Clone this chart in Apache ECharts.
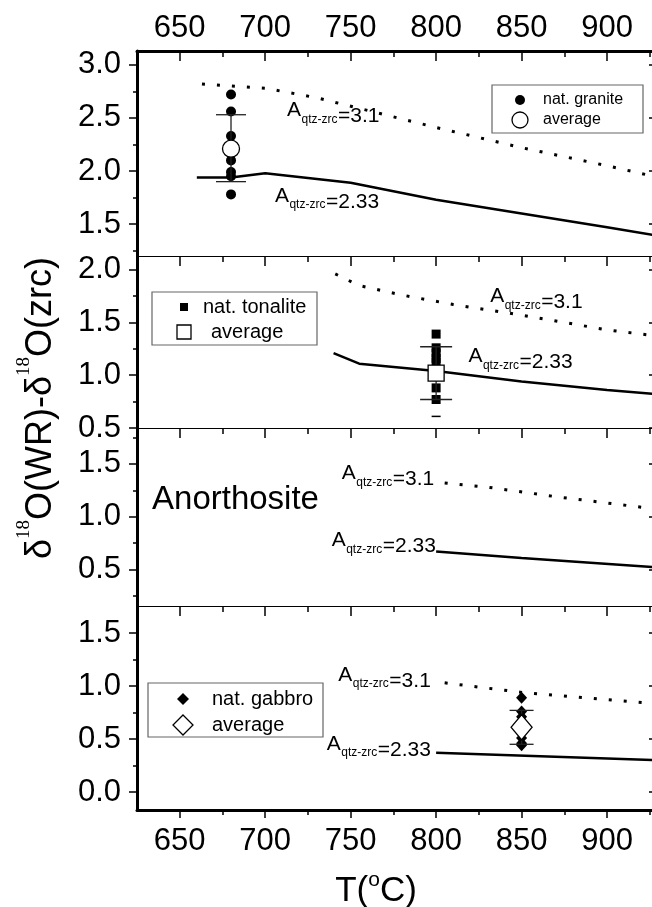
<!DOCTYPE html>
<html><head><meta charset="utf-8">
<script src="https://cdn.jsdelivr.net/npm/echarts@6/dist/echarts.min.js"></script>
<style>html,body{margin:0;padding:0;background:#fff}#c{width:652px;height:907px}</style>
</head><body><div id="c"></div>
<script>
// ---------------- DATA ----------------
const tempTicks = [650, 700, 750, 800, 850, 900];
const tempMinorTicks = [675, 725, 775, 825, 875, 925];

// granite panel
const granDotT = [663, 700, 730, 760, 800, 850, 900, 930];
const granDotV = [2.82, 2.78, 2.69, 2.57, 2.41, 2.22, 2.05, 1.94];
const granSolT = [660, 680, 700, 750, 800, 850, 900, 930];
const granSolV = [1.94, 1.94, 1.98, 1.89, 1.73, 1.60, 1.47, 1.39];
const granT = 680;
const granVals = [2.72, 2.56, 2.33, 2.10, 1.99, 1.95, 1.78];
const granAvg = 2.21;
const granErr = [1.90, 2.53];
const granTicks = [1.5, 2.0, 2.5, 3.0];
const granMinor = [1.25, 1.75, 2.25, 2.75];

// tonalite panel
const tonDotT = [741, 755, 780, 810, 850, 900, 930];
const tonDotV = [1.96, 1.85, 1.76, 1.67, 1.57, 1.43, 1.37];
const tonSolT = [740, 755, 800, 850, 900, 930];
const tonSolV = [1.21, 1.11, 1.04, 0.94, 0.86, 0.82];
const tonT = 800;
const tonVals = [1.39, 1.26, 1.21, 1.16, 1.12, 0.88, 0.77];
const tonAvg = 1.02;
const tonErr = [0.77, 1.27];
const tonLowMark = [0.61];
const tonTicks = [0.5, 1.0, 1.5, 2.0];
const tonMinor = [0.75, 1.25, 1.75];

// anorthosite panel
const anoDotT = [805, 830, 870, 930];
const anoDotV = [1.32, 1.28, 1.19, 1.07];
const anoSolT = [800, 850, 930];
const anoSolV = [0.67, 0.61, 0.52];
const anoTicks = [0.5, 1.0, 1.5];
const anoMinor = [0.25, 0.75, 1.25, 1.75];

// gabbro panel
const gabDotT = [805, 850, 930];
const gabDotV = [1.03, 0.94, 0.83];
const gabSolT = [800, 930];
const gabSolV = [0.37, 0.30];
const gabT = 850;
const gabVals = [0.89, 0.76, 0.71, 0.51, 0.46, 0.44];
const gabAvg = 0.61;
const gabErr = [0.45, 0.77];
const gabTicks = [0.0, 0.5, 1.0, 1.5];
const gabMinor = [0.25, 0.75, 1.25];

// annotation anchors (data coords: T, value)
const lbl31 = [[712.8, 2.57], [831.6, 1.745], [744.8, 1.41], [742.8, 1.104]];
const lbl233 = [[705.7, 1.767], [818.9, 1.18], [738.9, 0.774], [736.0, 0.453]];
const anoLabelPos = [633.8, 1.16];

// ---------------- LAYOUT ----------------
const FONT = "'Liberation Sans', Arial, Helvetica, sans-serif";
const SERIF = "'Liberation Serif', 'Times New Roman', serif";
const X_MIN = 625, X_MAX = 926.3;
const panels = [
  { top: 51, height: 205, yMin: 1.2, yMax: 3.13, ticks: granTicks, minor: granMinor },
  { top: 256, height: 172, yMin: 0.5, yMax: 2.13, ticks: tonTicks, minor: tonMinor },
  { top: 428, height: 178, yMin: 0.155, yMax: 1.84, ticks: anoTicks, minor: anoMinor },
  { top: 606, height: 204, yMin: -0.17, yMax: 1.755, ticks: gabTicks, minor: gabMinor }
];
const LEFT = 137, WIDTH = 515;
const TICK_FS = 31;

const grid = [], xAxis = [], yAxis = [], xIdx = [], yIdx = [];
const tickLS = { color: '#000', width: 1.5 };
panels.forEach((p, i) => {
  grid.push({ left: LEFT, width: WIDTH, top: p.top, height: p.height });
  xIdx[i] = xAxis.length;
  xAxis.push({
    gridIndex: i, type: 'value', position: 'top', min: X_MIN, max: X_MAX,
    axisLine: { show: true, onZero: false, lineStyle: { color: '#000', width: i === 0 ? 3 : 1.2 } },
    axisTick: { show: true, inside: true, length: 10, lineStyle: tickLS, customValues: tempTicks },
    axisLabel: { show: i === 0, customValues: tempTicks, fontSize: TICK_FS, color: '#000', fontFamily: FONT, margin: 7 },
    splitLine: { show: false }
  });
  xAxis.push({
    gridIndex: i, type: 'value', position: 'top', min: X_MIN, max: X_MAX,
    axisLine: { show: false, onZero: false },
    axisTick: { show: true, inside: true, length: 6, lineStyle: tickLS, customValues: tempMinorTicks },
    axisLabel: { show: false }, splitLine: { show: false }
  });
  if (i === 3) {
    xAxis.push({
      gridIndex: i, type: 'value', position: 'bottom', min: X_MIN, max: X_MAX,
      axisLine: { show: true, onZero: false, lineStyle: { color: '#000', width: 3 } },
      axisTick: { show: true, inside: false, length: 8, lineStyle: tickLS, customValues: tempTicks },
      axisLabel: { show: true, customValues: tempTicks, fontSize: TICK_FS, color: '#000', fontFamily: FONT, margin: 16 },
      splitLine: { show: false }
    });
    xAxis.push({
      gridIndex: i, type: 'value', position: 'bottom', min: X_MIN, max: X_MAX,
      axisLine: { show: false, onZero: false },
      axisTick: { show: true, inside: false, length: 5, lineStyle: tickLS, customValues: tempMinorTicks },
      axisLabel: { show: false }, splitLine: { show: false }
    });
  }
  yIdx[i] = yAxis.length;
  yAxis.push({
    gridIndex: i, type: 'value', position: 'left', min: p.yMin, max: p.yMax,
    axisLine: { show: true, onZero: false, lineStyle: { color: '#000', width: 3 } },
    axisTick: { show: true, inside: false, length: 8, lineStyle: tickLS, customValues: p.ticks },
    axisLabel: { show: true, customValues: p.ticks, formatter: v => Number(v).toFixed(1), fontSize: TICK_FS, color: '#000', fontFamily: FONT, margin: 16 },
    splitLine: { show: false }
  });
  yAxis.push({
    gridIndex: i, type: 'value', position: 'left', min: p.yMin, max: p.yMax,
    axisLine: { show: false, onZero: false },
    axisTick: { show: true, inside: false, length: 4, lineStyle: tickLS, customValues: p.minor },
    axisLabel: { show: false }, splitLine: { show: false }
  });
  yAxis.push({
    gridIndex: i, type: 'value', position: 'right', min: p.yMin, max: p.yMax,
    axisLine: { show: false, onZero: false },
    axisTick: { show: true, inside: true, length: 3, lineStyle: tickLS, customValues: p.ticks },
    axisLabel: { show: false }, splitLine: { show: false }
  });
});

function lineSeries(i, xs, ys, dotted) {
  return {
    type: 'line', xAxisIndex: xIdx[i], yAxisIndex: yIdx[i], silent: true, z: 2,
    data: xs.map((x, k) => [x, ys[k]]), symbol: 'none', animation: false,
    lineStyle: dotted ? { color: '#000', width: 3, type: [3, 12] } : { color: '#000', width: 2.5, type: 'solid' }
  };
}
function pointSeries(i, t, vals, symbol, size) {
  return {
    type: 'scatter', xAxisIndex: xIdx[i], yAxisIndex: yIdx[i], silent: true, z: 3, animation: false,
    data: vals.map(v => [t, v]), symbol: symbol, symbolSize: size, itemStyle: { color: '#000', opacity: 1 }
  };
}
function avgSeries(i, t, v, symbol, size) {
  return {
    type: 'scatter', xAxisIndex: xIdx[i], yAxisIndex: yIdx[i], silent: true, z: 5, animation: false,
    data: [[t, v]], symbol: symbol, symbolSize: size,
    itemStyle: { color: '#fff', borderColor: '#000', borderWidth: 1.3, opacity: 1 }
  };
}
function errSeries(i, t, err, capW) {
  return {
    type: 'custom', xAxisIndex: xIdx[i], yAxisIndex: yIdx[i], silent: true, z: 4, animation: false,
    data: [[t, err[0], err[1]]], encode: { x: 0, y: [1, 2] },
    renderItem: (params, api) => {
      const x = api.value(0);
      const lo = api.coord([x, api.value(1)]);
      const hi = api.coord([x, api.value(2)]);
      const w = capW / 2, st = { stroke: '#222', lineWidth: 1.3 };
      return { type: 'group', children: [
        { type: 'line', shape: { x1: hi[0], y1: hi[1], x2: lo[0], y2: lo[1] }, style: st },
        { type: 'line', shape: { x1: hi[0] - w, y1: hi[1], x2: hi[0] + w, y2: hi[1] }, style: st },
        { type: 'line', shape: { x1: lo[0] - w, y1: lo[1], x2: lo[0] + w, y2: lo[1] }, style: st }
      ] };
    }
  };
}

const series = [
  lineSeries(0, granDotT, granDotV, true),
  lineSeries(0, granSolT, granSolV, false),
  pointSeries(0, granT, granVals, 'circle', 10),
  errSeries(0, granT, granErr, 30),
  avgSeries(0, granT, granAvg, 'circle', 17),

  lineSeries(1, tonDotT, tonDotV, true),
  lineSeries(1, tonSolT, tonSolV, false),
  pointSeries(1, tonT, tonVals, 'rect', 9),
  errSeries(1, tonT, tonErr, 32),
  pointSeries(1, tonT, tonLowMark, 'rect', [9, 1.5]),
  avgSeries(1, tonT, tonAvg, 'rect', 16),

  lineSeries(2, anoDotT, anoDotV, true),
  lineSeries(2, anoSolT, anoSolV, false),

  lineSeries(3, gabDotT, gabDotV, true),
  lineSeries(3, gabSolT, gabSolV, false),
  pointSeries(3, gabT, gabVals, 'diamond', [11, 12]),
  errSeries(3, gabT, gabErr, 24),
  avgSeries(3, gabT, gabAvg, 'diamond', [21, 25])
];

const chart = echarts.init(document.getElementById('c'), null, { renderer: 'canvas' });
chart.setOption({ backgroundColor: '#fff', animation: false, grid, xAxis, yAxis, series });

// ---------------- TEXT / LEGENDS ----------------
const ctx = document.createElement('canvas').getContext('2d');
function tw(text, size, family) { ctx.font = size + 'px ' + (family || FONT); return ctx.measureText(text).width; }
function txt(text, x, y, size, o) {
  o = o || {};
  return { type: 'text', x: x, y: y, z: 100, silent: true,
    style: { text: text, fontSize: size, fontFamily: o.family || FONT, fill: '#000',
      align: o.align || 'left', verticalAlign: o.va || 'middle' } };
}
function toPx(i, pt) { return chart.convertToPixel({ xAxisIndex: xIdx[i], yAxisIndex: yIdx[i] }, pt); }
function qtzLabel(i, pt, val) {
  const p = toPx(i, pt);
  const wA = tw('A', 21), wS = tw('qtz-zrc', 12);
  return [
    txt('A', p[0], p[1], 21),
    txt('qtz-zrc', p[0] + wA + 0.5, p[1] + 9, 12),
    txt('=' + val, p[0] + wA + wS + 1, p[1] + 6, 21)
  ];
}

const g = [];
for (let i = 0; i < 4; i++) {
  g.push(...qtzLabel(i, lbl31[i], '3.1'));
  g.push(...qtzLabel(i, lbl233[i], '2.33'));
}
const ap = toPx(2, anoLabelPos);
g.push(txt('Anorthosite', ap[0], ap[1], 33));

// y-axis title (rotated)
(function () {
  const M = 36, S = 19, supDy = -17;
  const parts = [['δ', M, FONT, 0], ['18', S, SERIF, supDy], ['O(WR)-δ', M, FONT, 0], ['18', S, SERIF, supDy], ['O(zrc)', M, FONT, 0]];
  const total = parts.reduce((s, p) => s + tw(p[0], p[1], p[2]), 0);
  let x = -total / 2;
  const children = parts.map(p => { const e = txt(p[0], x, p[3], p[1], { family: p[2] }); x += tw(p[0], p[1], p[2]); return e; });
  g.push({ type: 'group', x: 41, y: 408, rotation: Math.PI / 2, children: children });
})();
// x-axis title
(function () {
  const M = 35, S = 21;
  const parts = [['T(', M, 0], ['o', S, -11], ['C)', M, 0]];
  const total = parts.reduce((s, p) => s + tw(p[0], p[1]), 0);
  let x = 376 - total / 2;
  parts.forEach(p => { g.push(txt(p[0], x, 891 + p[2], p[1])); x += tw(p[0], p[1]); });
})();

// legends
function box(x, y, w, h) { return { type: 'rect', z: 90, silent: true, shape: { x, y, width: w, height: h }, style: { fill: '#fff', stroke: '#666', lineWidth: 1.2 } }; }
function diamond(cx, cy, w, h, filled) {
  return { type: 'polygon', z: 100, silent: true, shape: { points: [[cx, cy - h / 2], [cx + w / 2, cy], [cx, cy + h / 2], [cx - w / 2, cy]] },
    style: filled ? { fill: '#000' } : { fill: '#fff', stroke: '#000', lineWidth: 1.3 } };
}
// granite legend
g.push(box(492, 85, 151, 48));
g.push({ type: 'circle', z: 100, silent: true, shape: { cx: 520, cy: 100, r: 5 }, style: { fill: '#000' } });
g.push({ type: 'circle', z: 100, silent: true, shape: { cx: 520, cy: 120, r: 8 }, style: { fill: '#fff', stroke: '#000', lineWidth: 1.3 } });
g.push(txt('nat. granite', 543, 100, 16));
g.push(txt('average', 543, 120, 16));
// tonalite legend
g.push(box(152, 292, 165, 53));
g.push({ type: 'rect', z: 100, silent: true, shape: { x: 180, y: 303, width: 8, height: 8 }, style: { fill: '#000' } });
g.push({ type: 'rect', z: 100, silent: true, shape: { x: 177, y: 325, width: 14, height: 14 }, style: { fill: '#fff', stroke: '#000', lineWidth: 1.3 } });
g.push(txt('nat. tonalite', 203, 307, 20));
g.push(txt('average', 211, 332, 20));
// gabbro legend
g.push(box(148, 683, 175, 54));
g.push(diamond(183, 699, 12, 12, true));
g.push(diamond(183, 725, 20, 20, false));
g.push(txt('nat. gabbro', 212, 699, 20));
g.push(txt('average', 212, 725, 20));

chart.setOption({ graphic: g });
</script></body></html>
